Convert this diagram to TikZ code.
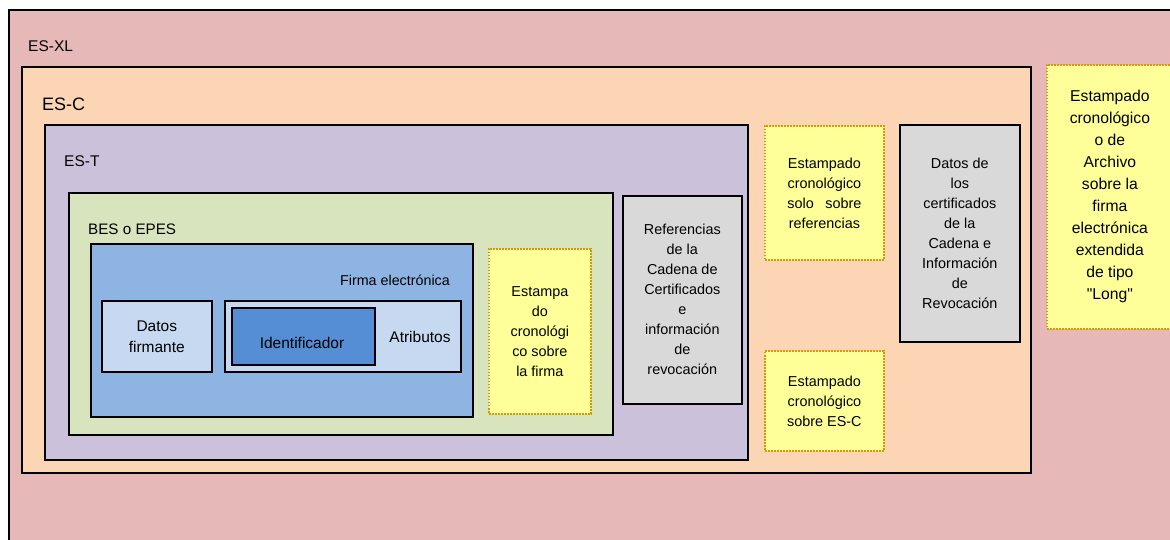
\documentclass[tikz,border=0pt]{standalone}
\usepackage{fontspec}
\setmainfont{Liberation Sans}
\newfontfamily\plainquote{Liberation Sans}
\definecolor{xlred}{HTML}{E6B9B8}
\definecolor{corange}{HTML}{FCD5B5}
\definecolor{tviolet}{HTML}{CCC1DA}
\definecolor{besgreen}{HTML}{D7E4BD}
\definecolor{firmablue}{HTML}{8EB4E3}
\definecolor{lightblue}{HTML}{C6D9F1}
\definecolor{identblue}{HTML}{558ED5}
\definecolor{refgray}{HTML}{D9D9D9}
\definecolor{stampyellow}{HTML}{FFFF99}
\definecolor{stampline}{HTML}{D49B00}
\tikzset{
	frame/.style={draw=black, line width=1.6pt, anchor=north west, inner sep=0pt},
	graybox/.style={frame, fill=refgray, align=center, font=\fontsize{14.4}{20}\selectfont},
	stampbox/.style={draw=stampline, fill=stampyellow, line width=1.8pt, dash pattern=on 1.6pt off 1.4pt, anchor=north west, inner sep=0pt, align=center, font=\fontsize{14.4}{20}\selectfont},
	tag/.style={anchor=west, inner sep=0pt, font=\fontsize{15.5}{18}\selectfont}
}
\begin{document}
\begin{tikzpicture}[x=1pt, y=-1pt]
	\useasboundingbox (0,0) rectangle (1170,540);
	\clip (0,0) rectangle (1170,540);
	% nested signature formats
	\node[frame, fill=xlred, minimum width=1180pt, minimum height=560pt] (esxl) at (8,9) {};
	\node[tag] (esxllabel) at (28,46) {ES-XL};
	\node[frame, fill=corange, minimum width=1009pt, minimum height=406pt] (esc) at (21,66) {};
	\node[tag, font=\fontsize{18}{20}\selectfont] (esclabel) at (42,104) {ES-C};
	\node[frame, fill=tviolet, minimum width=703pt, minimum height=335pt] (est) at (44,124) {};
	\node[tag] (estlabel) at (64,161) {ES-T};
	\node[frame, fill=besgreen, minimum width=544pt, minimum height=242pt] (bes) at (68,192) {};
	\node[tag, font=\fontsize{15.2}{18}\selectfont] (beslabel) at (88,229) {BES o EPES};
	% electronic signature
	\node[frame, fill=firmablue, minimum width=382pt, minimum height=173pt] (firma) at (90,243) {};
	\node[anchor=east, inner sep=0pt, font=\fontsize{14.3}{18}\selectfont] (firmalabel) at (450,280) {Firma electrónica};
	\node[frame, fill=lightblue, align=center, minimum width=110pt, minimum height=71pt, font=\fontsize{15.5}{21}\selectfont] (datos) at (101,300) {Datos\\firmante};
	\node[frame, fill=lightblue, minimum width=236pt, minimum height=71pt] (atrib) at (224,300) {};
	\node[inner sep=0pt, font=\fontsize{15.5}{18}\selectfont] (atriblabel) at (420,337) {Atributos};
	\node[frame, fill=identblue, minimum width=143pt, minimum height=57pt] (ident) at (231,307) {};
	\node[inner sep=0pt, font=\fontsize{15.5}{18}\selectfont] (identlabel) at (302,343) {Identificador};
	% time stamps and references
	\node[stampbox, minimum width=102pt, minimum height=165pt] (tsfirma) at (488,248) {Estampa\\do\\cronológi\\co sobre\\la firma};
	\node[graybox, minimum width=119pt, minimum height=208pt] (refs) at (622,195) {Referencias\\de la\\Cadena de\\Certificados\\e\\información\\de\\revocación};
	\node[stampbox, minimum width=119pt, minimum height=134pt] (tsrefs) at (764,125) {Estampado\\cronológico\\solo\hspace{0.8em}sobre\\referencias};
	\node[graybox, minimum width=120pt, minimum height=217pt] (certs) at (899,124) {Datos de\\los\\certificados\\de la\\Cadena e\\Información\\de\\Revocación};
	\node[stampbox, minimum width=119pt, minimum height=100pt] (tsesc) at (764,350) {Estampado\\cronológico\\sobre ES-C};
	\node[stampbox, minimum width=126pt, minimum height=264pt, font=\fontsize{15.7}{22}\selectfont] (tslong) at (1046,64) {Estampado\\cronológico\\o de\\Archivo\\sobre la\\firma\\electrónica\\extendida\\de tipo\\{\plainquote "Long"}};
\end{tikzpicture}
\end{document}
